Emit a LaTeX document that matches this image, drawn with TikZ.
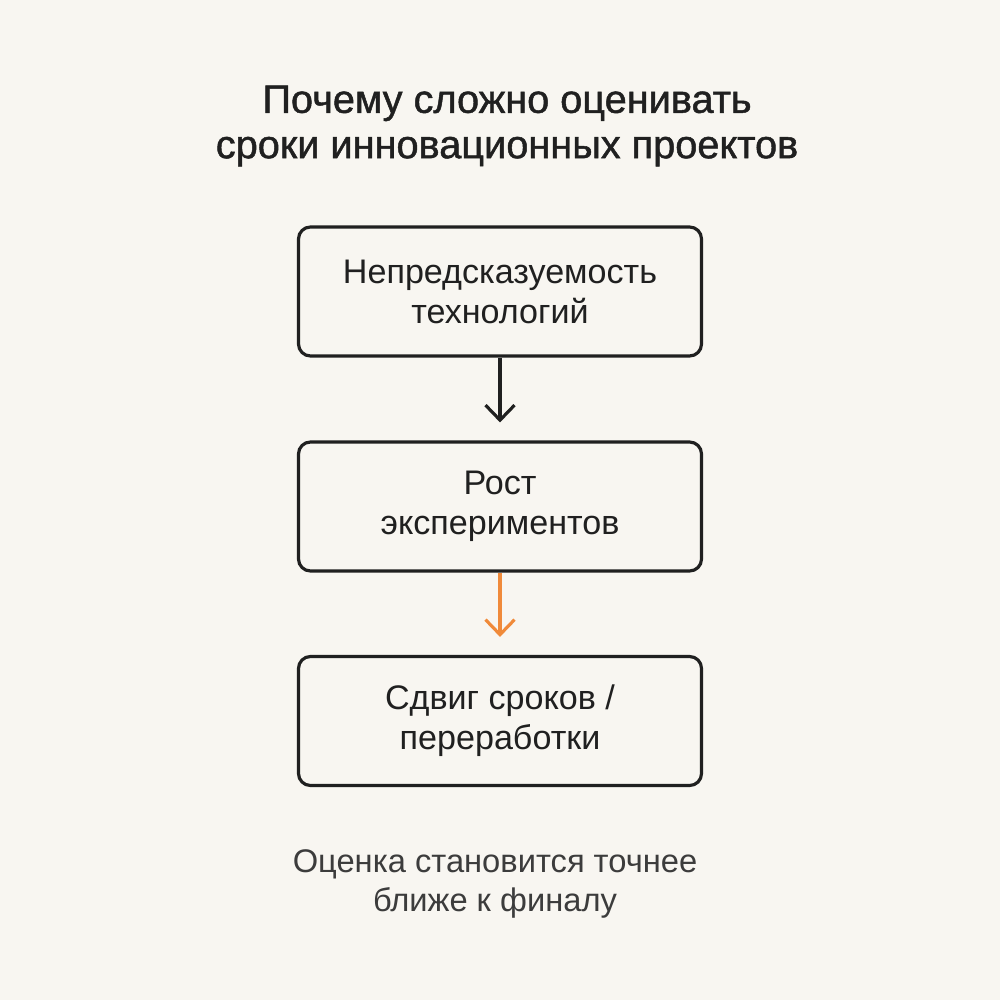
\documentclass[tikz,border=0pt]{standalone}
\usepackage{fontspec}
\setmainfont{Liberation Sans}
\newfontfamily\titlefont{Liberation Sans}[FakeBold=1.2]
\usetikzlibrary{arrows.meta}

\definecolor{paper}{HTML}{F8F6F1}
\definecolor{ink}{HTML}{202020}
\definecolor{greytext}{HTML}{3C3C3C}
\definecolor{accent}{HTML}{F08A3A}

\begin{document}
\begin{tikzpicture}[
	stepbox/.style={draw=ink, line width=0.9pt, rounded corners=3.4pt, fill=paper,
		minimum width=4.03cm, minimum height=1.29cm, align=center,
		font=\fontsize{9.7}{11.4}\selectfont, text=ink},
	flow/.style={line width=0.9pt, -{Straight Barb[length=1.5mm, width=2.9mm]},
		shorten >=1.8mm}
	]
	% page
	\fill[paper] (0,0) rectangle (10,-10);
	\useasboundingbox (0,0) rectangle (10,-10);

	% title
	\node[align=center, text=ink, font=\titlefont\fontsize{11.3}{12.9}\selectfont]
		(title) at (5.07,-1.26) {Почему сложно оценивать\\сроки инновационных проектов};

	% boxes
	\node[stepbox] (tech) at (5.0,-2.915) {Непредсказуемость\\технологий};
	\node[stepbox] (exp)  at (5.0,-5.065) {Рост\\экспериментов};
	\node[stepbox] (shift) at (5.0,-7.21) {Сдвиг сроков /\\переработки};

	% arrows
	\draw[flow, ink] (tech) -- (exp);
	\draw[flow, accent] (exp) -- (shift);

	% caption
	\node[align=center, text=greytext, font=\fontsize{9.3}{10.9}\selectfont]
		(note) at (4.95,-8.84) {Оценка становится точнее\\ближе к финалу};
\end{tikzpicture}
\end{document}
